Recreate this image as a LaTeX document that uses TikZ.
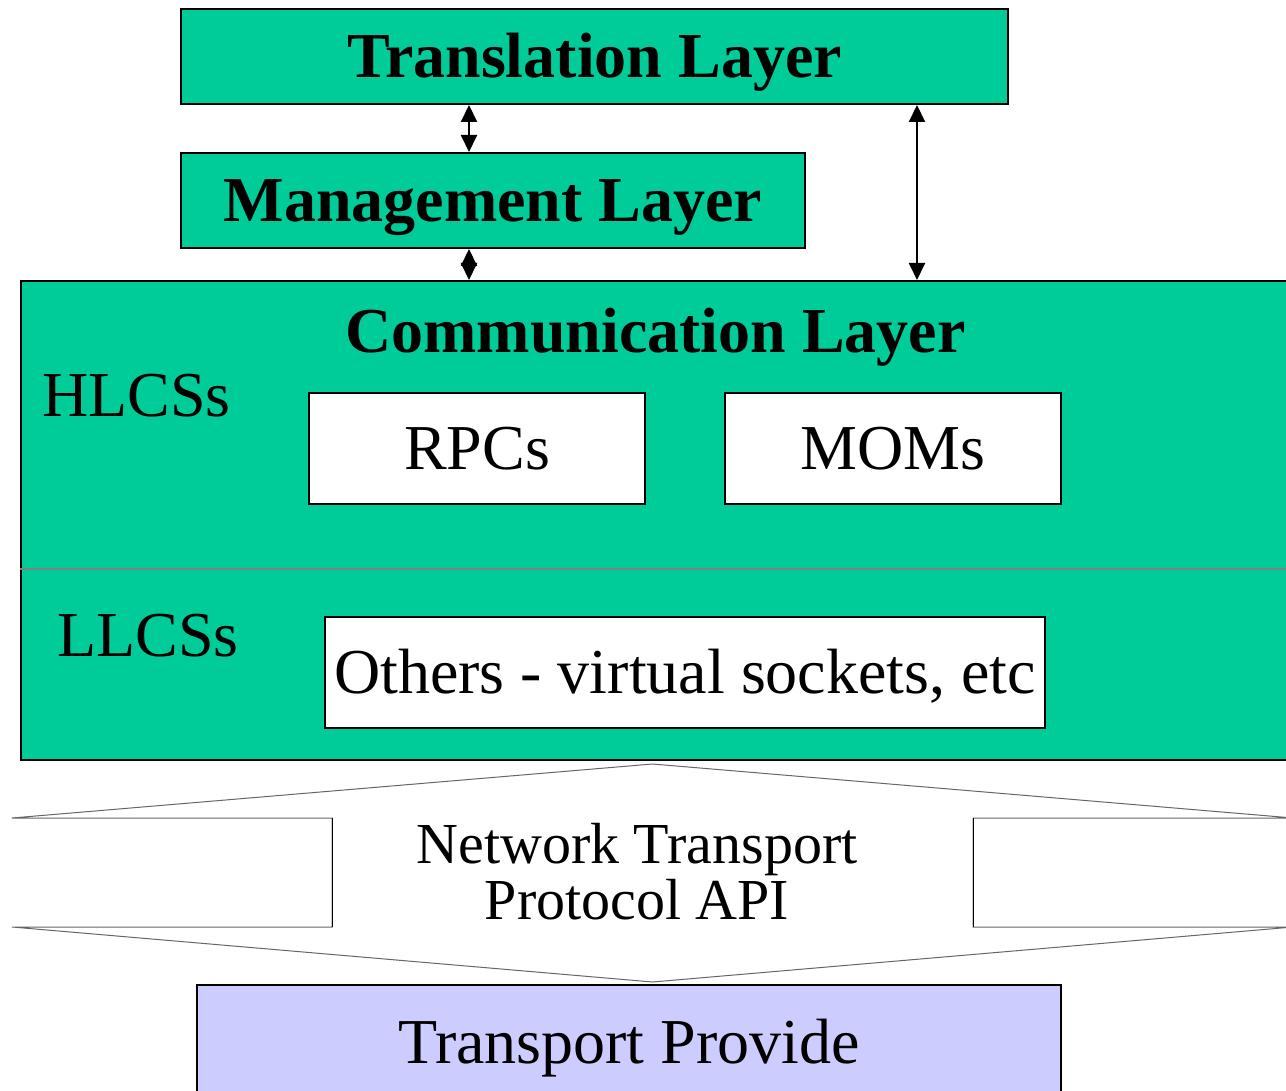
\documentclass[tikz,border=0pt]{standalone}
\usepackage{fontspec}
\setmainfont{Liberation Serif}
\usepackage{tikz}
\usetikzlibrary{arrows.meta}
\usetikzlibrary{positioning}
\definecolor{layergreen}{RGB}{0,204,153}
\definecolor{providerblue}{RGB}{204,204,255}
\tikzstyle{layer}=[
        draw,
        rectangle,
        line width=2pt,
        fill=layergreen,
        inner sep=0pt,
        text height=42pt,
        text depth=0pt,
        font=\fontsize{64}{70}\selectfont\bfseries
]
\tikzstyle{service}=[rectangle,draw,line width=2pt,fill=white,inner sep=0pt,text height=42pt,text depth=0pt,font=\fontsize{64}{70}\selectfont]
\tikzstyle{tag}=[inner sep=0pt,font=\fontsize{64}{70}\selectfont]
\tikzstyle{link}=[{Triangle[length=17pt,width=16pt]}-{Triangle[length=17pt,width=16pt]},line width=2pt]

\begin{document}
\begin{tikzpicture}[x=1pt,y=-1pt]
\useasboundingbox (0,0) rectangle (1286,1091);
\node[layer,minimum width=827pt,minimum height=95pt] (translation) at (594.5,56.5) {Translation Layer};
\node[layer,minimum width=624pt,minimum height=95pt] (management) at (493,200.5) {Management Layer};
\node[layer,minimum width=1269pt,minimum height=479pt] (communication) at (655.5,520.5) {};
\node[tag,font=\fontsize{64}{70}\selectfont\bfseries,anchor=base] (commtitle) at (655.5,353) {Communication Layer};
\node[tag,anchor=base west] (hlcs) at (42,417) {HLCSs};
\node[tag,anchor=base west] (llcs) at (57,656) {LLCSs};
\node[service,minimum width=336pt,minimum height=111pt] (rpcs) at (477,448.5) {RPCs};
\node[service,minimum width=336pt,minimum height=111pt] (moms) at (893,448.5) {MOMs};
\node[service,minimum width=720pt,minimum height=111pt] (others) at (685,672.5) {Others - virtual sockets, etc};
\node[rectangle,draw,line width=2pt,fill=providerblue,inner sep=0pt,text height=42pt,text depth=0pt,
  font=\fontsize{64}{70}\selectfont,minimum width=864pt,minimum height=115pt] (transport) at (629,1042.5) {Transport Provide};
%separation haut/bas
\coordinate (split) at (0,569);
\draw[gray,line width=2pt] (communication.west |- split) -- (communication.east |- split);
%bloc fleche
\draw[gray!80!black,line width=1pt,fill=white]
  (652.5,764) -- (1293,818) -- (973,818) -- (973,927) -- (1293,927) -- (652.5,982)
  -- (12,927) -- (332,927) -- (332,818) -- (12,818) -- cycle;
\draw[black,line width=1pt] (332,818) -- (332,927) (973,818) -- (973,927);
\node[tag,align=center,font=\fontsize{58}{56}\selectfont] (api) at (637,872) {Network Transport\\Protocol API};
%liens
\coordinate (left) at (469,0);
\coordinate (right) at (917,0);
\draw[link] (translation.south -| left) -- (management.north -| left);
\draw[link] (management.south -| left) -- (communication.north -| left);
\draw[link] (translation.south -| right) -- (communication.north -| right);
\end{tikzpicture}
\end{document}
